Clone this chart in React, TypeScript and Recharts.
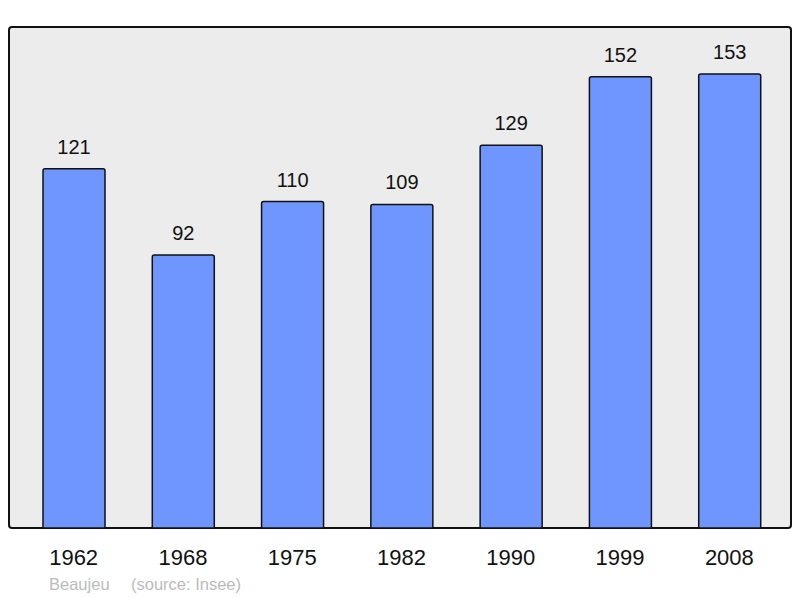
import React from "react";
import { BarChart, Bar, XAxis, YAxis, LabelList } from "recharts";

const years = ["1962", "1968", "1975", "1982", "1990", "1999", "2008"];
const population = [121, 92, 110, 109, 129, 152, 153];
const townName = "Beaujeu";
const sourceText = "(source: Insee)";

const data = years.map((y, i) => ({ year: y, value: population[i] }));

const FONT = "'Liberation Sans', Arial, sans-serif";

export default function App() {
  return (
    <div style={{ position: "absolute", left: 0, top: 0, width: 800, height: 598, background: "#fff", fontFamily: FONT }}>
      <div
        style={{
          position: "absolute",
          left: 8,
          top: 26,
          width: 784,
          height: 503,
          boxSizing: "border-box",
          border: "2px solid #111",
          borderRadius: 4,
          background: "#ececec",
        }}
      />
      <div style={{ position: "absolute", left: 0, top: 0 }}>
        <BarChart
          width={800}
          height={598}
          data={data}
          margin={{ top: 27, right: 9, left: 9, bottom: 40 }}
          barCategoryGap={0}
        >
          <YAxis hide domain={[0, 168.8]} />
          <XAxis
            dataKey="year"
            height={30}
            axisLine={false}
            tickLine={false}
            tickSize={0}
            tickMargin={21}
            padding={{ left: 10, right: 7 }}
            interval={0}
            tick={{ fontSize: 22, fill: "#111", fontFamily: FONT }}
          />
          <Bar
            dataKey="value"
            fill="#6f96ff"
            stroke="#111"
            strokeWidth={1.5}
            barSize={62}
            radius={[2, 2, 0, 0]}
            isAnimationActive={false}
          >
            <LabelList dataKey="value" position="top" offset={15} style={{ fontSize: 20, fill: "#111", fontFamily: FONT }} />
          </Bar>
        </BarChart>
      </div>
      <svg width={800} height={598} style={{ position: "absolute", left: 0, top: 0, pointerEvents: "none" }}>
        <text x={49} y={590} fontSize={16.5} fill="#bbbbbb" fontFamily={FONT}>{townName}</text>
        <text x={131} y={590} fontSize={16.5} fill="#bbbbbb" fontFamily={FONT}>{sourceText}</text>
      </svg>
    </div>
  );
}
